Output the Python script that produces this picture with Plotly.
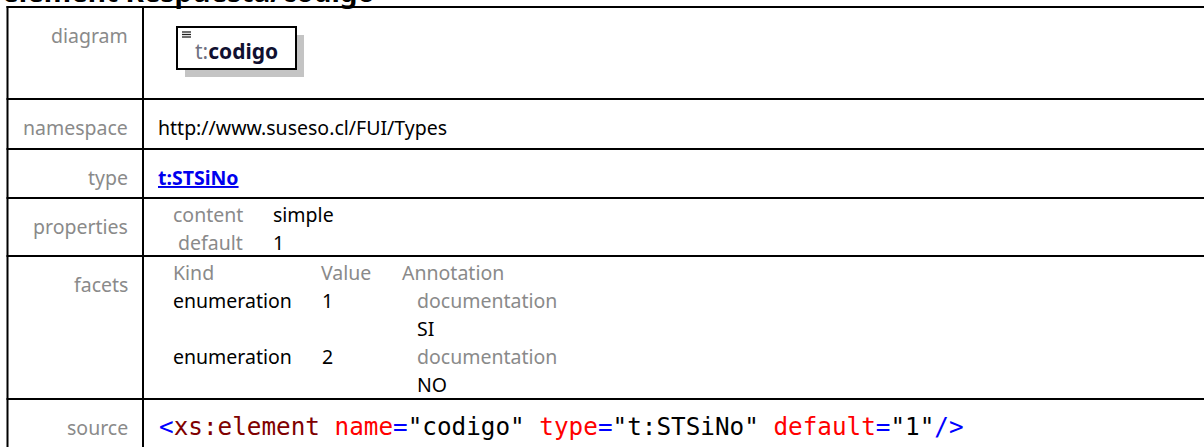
import plotly.graph_objects as go

# ---- content (text data) ----
title_text = "element Respuesta/codigo"
row_labels = ["diagram", "namespace", "type", "properties", "facets", "source"]
diagram_prefix = "t:"
diagram_name = "codigo"
namespace_value = "http://www.suseso.cl/FUI/Types"
type_value = "t:STSiNo"
prop_keys = ["content", "default"]
prop_values = ["simple", "1"]
facet_headers = ["Kind", "Value", "Annotation"]
facet_kinds = ["enumeration", "enumeration"]
facet_values = ["1", "2"]
facet_docs = ["SI", "NO"]
# source tokens: (text, role)
source_tokens = [
    ("&lt;", "punct"), ("xs:element", "tag"), (" name", "attr"), ("=", "punct"),
    ('"codigo"', "val"), (" type", "attr"), ("=", "punct"), ('"t:STSiNo"', "val"),
    (" default", "attr"), ("=", "punct"), ('"1"', "val"), ("/&gt;", "punct"),
]

# ---- layout constants (pixels) ----
W, H = 1204, 447
row_tops = [7, 99, 149, 198, 256, 399]
x_left, x_div = 7.5, 143
label_right = 129
GRAY = "#8a8a8a"
SANS = "Noto Sans"
FS = 19.5
role_colors = {"punct": "#0000ff", "tag": "#800000", "attr": "#ff0000", "val": "#000000"}

fig = go.Figure()
shapes = []
ann = []

def txt(x, y, s, color="black", size=FS, family=SANS, anchor="left"):
    ann.append(dict(x=x, y=y, xref="x", yref="y", text=s, showarrow=False,
                    xanchor=anchor, yanchor="middle", borderpad=0,
                    font=dict(family=family, size=size, color=color)))

# title (cut off at the top edge of the page, as in the reference)
ann.append(dict(x=1, y=11, xref="x", yref="y", text="<b>" + title_text + "</b>",
                showarrow=False, xanchor="left", yanchor="bottom", borderpad=0,
                font=dict(family=SANS, size=28, color="black")))

# grid lines
for yt in row_tops:
    shapes.append(dict(type="line", x0=x_left - 1, x1=W + 5, y0=yt, y1=yt,
                       xref="x", yref="y", line=dict(color="black", width=2)))
for xv in (x_left, x_div):
    shapes.append(dict(type="line", x0=xv, x1=xv, y0=row_tops[0] - 1, y1=H + 5,
                       xref="x", yref="y", line=dict(color="black", width=2)))

# left labels
for lab, yt in zip(row_labels, row_tops):
    txt(label_right, yt + 28, lab, color=GRAY, anchor="right")

# diagram box
shapes.append(dict(type="rect", x0=185, x1=304, y0=35, y1=77, xref="x", yref="y",
                   fillcolor="#c4c4c4", line=dict(width=0)))
shapes.append(dict(type="rect", x0=177, x1=296, y0=27, y1=69, xref="x", yref="y",
                   fillcolor="white", line=dict(color="black", width=2)))
for dy in (32, 34.5, 37):
    shapes.append(dict(type="line", x0=182, x1=191, y0=dy, y1=dy, xref="x", yref="y",
                       line=dict(color="#222", width=1.3)))
ann.append(dict(x=194, y=51, xref="x", yref="y", showarrow=False, xanchor="left",
                yanchor="middle", borderpad=0,
                text='<span style="color:#6f7080">' + diagram_prefix + '</span><b>'
                     + '<span style="color:#101030">' + diagram_name + '</span></b>',
                font=dict(family=SANS, size=21, color="black")))

# namespace
txt(157, row_tops[1] + 28, namespace_value)
# type link
txt(157, row_tops[2] + 28, "<b><u>" + type_value + "</u></b>", color="#0000ee")

# properties
for i, (k, v) in enumerate(zip(prop_keys, prop_values)):
    yy = row_tops[3] + 16 + i * 28
    txt(244, yy, k, color=GRAY, anchor="right")
    txt(272, yy, v)

# facets
fy = row_tops[4] + 16
for h, hx in zip(facet_headers, (172, 320, 401)):
    txt(hx, fy, h, color=GRAY)
for i, (k, v, d) in enumerate(zip(facet_kinds, facet_values, facet_docs)):
    yy = fy + 28 + i * 56
    txt(172, yy, k)
    txt(321, yy, v)
    txt(416, yy, "documentation", color=GRAY)
    txt(416, yy + 28, d)

# source
src = "".join('<span style="color:%s">%s</span>' % (role_colors[r], t) for t, r in source_tokens)
txt(158, row_tops[5] + 27, src, family="DejaVu Sans Mono", size=24.3)

fig.update_layout(
    width=W, height=H, margin=dict(l=0, r=0, t=0, b=0),
    paper_bgcolor="white", plot_bgcolor="white",
    xaxis=dict(range=[0, W], visible=False, fixedrange=True),
    yaxis=dict(range=[H, 0], visible=False, fixedrange=True),
    shapes=shapes, annotations=ann, showlegend=False,
)
fig.write_html("out.html", config={"displayModeBar": False},
               post_script="document.body.style.margin='0px';")
